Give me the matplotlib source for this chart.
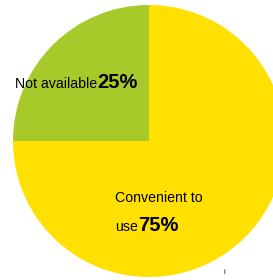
import matplotlib.pyplot as plt

labels = ["Convenient to\nuse", "Not available"]
values = [75, 25]
colors = ["#FFE000", "#A8C92A"]

plt.rcParams['font.family'] = ['Liberation Sans', 'DejaVu Sans']

fig = plt.figure(figsize=(2.73, 2.80), dpi=100)
ax = fig.add_axes([0, 0, 1, 1])

# pie in pixel coords, y up
ax.pie(values, colors=colors, startangle=90, counterclock=False,
       center=(149, 139), radius=136, frame=True,
       wedgeprops={'linewidth': 0})
ax.set_xlim(0, 273)
ax.set_ylim(0, 280)
ax.axis('off')

fig.canvas.draw()
renderer = fig.canvas.get_renderer()

def label_with_pct(x, y, text, pct, gap=26):
    lines = text.split("\n")
    for k, line in enumerate(lines):
        yy = y - k * gap
        t = ax.text(x, yy, line, fontsize=10.2, ha='left', va='baseline')
        if k == len(lines) - 1:
            bb = t.get_window_extent(renderer)
            x_end = ax.transData.inverted().transform((bb.x1, bb.y0))[0]
            ax.text(x_end, yy, pct, fontsize=14.5, fontweight='bold',
                    ha='left', va='baseline')

label_with_pct(115, 280 - 202, labels[0], f"{values[0]}%", gap=29)
label_with_pct(15, 280 - 88, labels[1], f"{values[1]}%")

ax.text(224, 280 - 274, "i", fontsize=6, ha='center', va='baseline', color='#222222')

fig.savefig("out.png", dpi=100)
